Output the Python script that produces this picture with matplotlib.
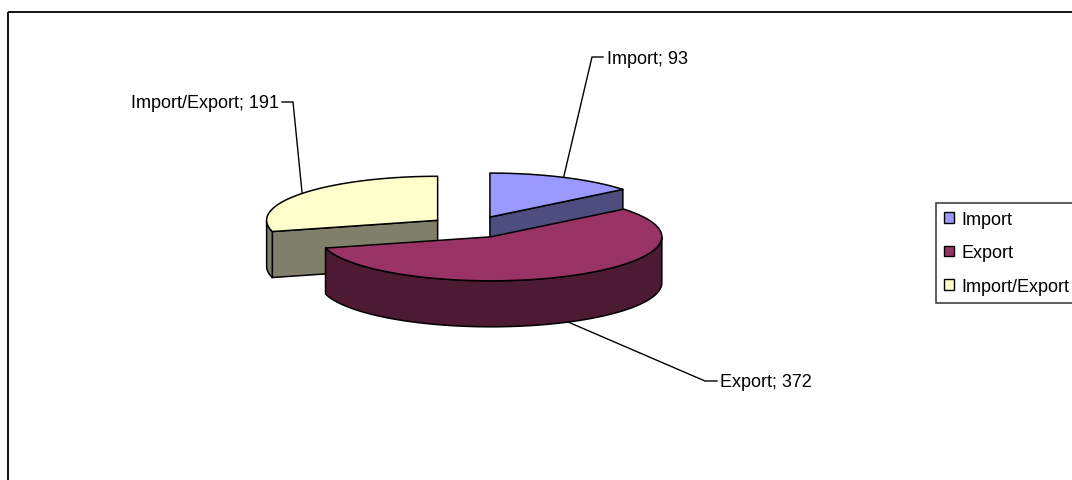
import numpy as np
import matplotlib.pyplot as plt
from matplotlib.patches import Polygon, Rectangle, Patch

plt.rcParams['font.family'] = ['Liberation Sans', 'DejaVu Sans']

categories = ['Import', 'Export', 'Import/Export']
values = [93, 372, 191]
top_colors = ['#9999FF', '#993366', '#FFFFCC']
side_colors = ['#4D4D80', '#4D1A33', '#80806A']

# pie geometry in pixels
cx, cy = 471.5, 228.0
rx, ry = 171.0, 44.0
depth = 46.0
explode = 0.25

fig = plt.figure(figsize=(10.72, 4.81), dpi=100)
ax = fig.add_axes([0, 0, 1, 1])
ax.set_xlim(0, 1072)
ax.set_ylim(481, 0)
ax.axis('off')

# outer chart frame
ax.add_patch(Rectangle((8, 13), 1100, 500, fill=False, ec='black', lw=1.3))

total = sum(values)
angles = np.cumsum([0] + values) / total * 360.0


def rim(x0, y0, th, dz=0.0):
    t = np.radians(th)
    return x0 + rx * np.sin(t), y0 - ry * np.cos(t) + dz


def draw_slice(i):
    a, b = angles[i], angles[i + 1]
    mid = np.radians((a + b) / 2)
    x0 = cx + explode * rx * np.sin(mid)
    y0 = cy - explode * ry * np.cos(mid)
    kw = dict(ec='black', lw=1.1, joinstyle='round')

    # radial walls facing the viewer
    for t, show in ((a, np.sin(np.radians(a)) < -1e-6), (b, np.sin(np.radians(b)) > 1e-6)):
        if show:
            px, py = rim(x0, y0, t)
            ax.add_patch(Polygon([(x0, y0), (px, py), (px, py + depth), (x0, y0 + depth)],
                                 fc=side_colors[i], **kw))

    # curved outer wall, front half only
    lo, hi = max(a, 90), min(b, 270)
    if hi > lo:
        th = np.linspace(lo, hi, 120)
        xs, ys = rim(x0, y0, th)
        pts = list(zip(xs, ys)) + list(zip(xs[::-1], ys[::-1] + depth))
        ax.add_patch(Polygon(pts, fc=side_colors[i], **kw))

    # top face
    th = np.linspace(a, b, 200)
    xs, ys = rim(x0, y0, th)
    pts = [(x0, y0)] + list(zip(xs, ys))
    ax.add_patch(Polygon(pts, fc=top_colors[i], **kw))

    # leader anchor on the rim at mid angle
    md = (a + b) / 2
    dz = depth if 90 < md < 270 else 0.0
    return rim(x0, y0, md, dz)


# back slices first
anchors = {}
for i in (0, 2, 1):
    anchors[i] = draw_slice(i)

# data labels with leader lines
label_elbows = {0: (592, 58, 603, 607, 'left'),
                1: (705, 382, 717, 720, 'left'),
                2: (293, 103, 282, 279, 'right')}
for i, (ex, ey, hx, tx, ha) in label_elbows.items():
    px, py = anchors[i]
    ax.plot([px, ex, hx], [py, ey, ey], color='black', lw=1.0)
    ax.text(tx, ey + 1, f'{categories[i]}; {values[i]}', ha=ha, va='center',
            fontsize=13, color='black')

handles = [Patch(fc=c, ec='black', lw=1.0) for c in top_colors]
leg = ax.legend(handles, categories, loc='upper left',
                bbox_to_anchor=(936 / 1072, 1 - 204 / 481), fontsize=13,
                frameon=True, fancybox=False, edgecolor='black',
                handlelength=0.55, handleheight=0.55, handletextpad=0.4,
                labelspacing=0.9, borderpad=0.45, borderaxespad=0)
leg.get_frame().set_linewidth(1.1)

fig.savefig('out.png', dpi=100)
